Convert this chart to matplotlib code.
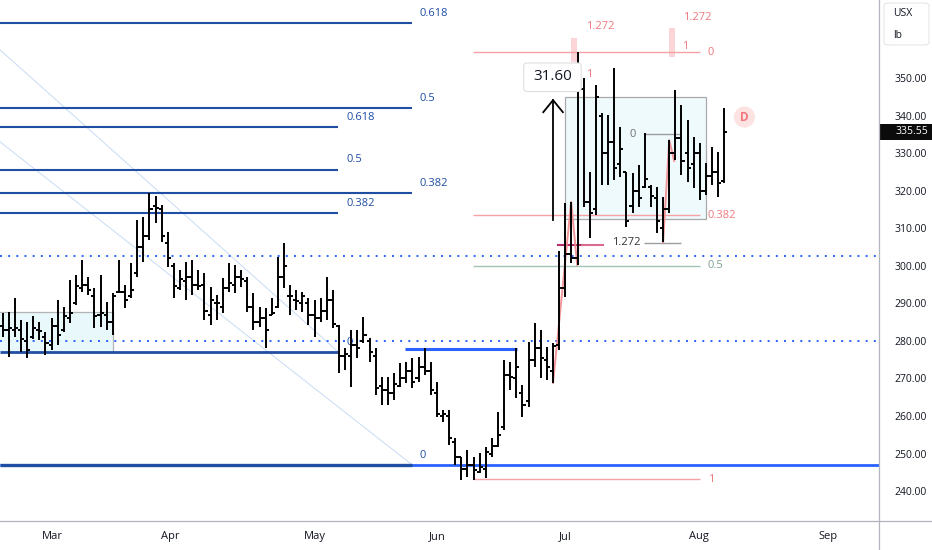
import numpy as np
import matplotlib.pyplot as plt
from matplotlib.patches import Rectangle, FancyBboxPatch
from matplotlib.lines import Line2D

plt.rcParams['font.family'] = ['Open Sans', 'DejaVu Sans']

# OHLC bars (bar index = position)
high = [287.4, 287.7, 291.4, 285.6, 285.0, 286.6, 285.0, 282.4, 286.1, 290.9,
        289.0, 296.2, 297.5, 301.5, 297.0, 294.1, 297.5, 290.3, 292.7, 301.5,
        294.9, 300.7, 312.2, 313.0, 319.4, 318.6, 316.2, 309.0, 300.7, 298.9,
        301.0, 301.5, 298.9, 298.1, 294.3, 292.2, 296.7, 300.7, 300.2, 298.9,
        297.0, 292.7, 289.0, 288.8, 291.4, 302.3, 306.1, 294.9, 293.5, 293.0,
        291.4, 290.9, 291.4, 297.0, 293.5, 284.2, 278.1, 282.9, 282.9, 286.4,
        280.8, 278.1, 270.4, 270.4, 271.4, 274.1, 274.4, 275.4, 275.7, 278.1,
        274.4, 269.0, 261.6, 261.6, 254.1, 249.1, 250.9, 249.1, 250.1, 251.7,
        254.1, 261.1, 274.9, 274.4, 278.1, 268.2, 279.7, 284.8, 282.9, 278.4,
        279.4, 304.0, 316.7, 317.0, 356.9, 350.0, 325.0, 348.1, 340.7, 340.1,
        352.7, 337.0, 325.0, 324.7, 326.8, 335.4, 321.5, 321.0, 318.3, 333.5,
        346.8, 342.8, 338.8, 334.3, 332.7, 327.4, 331.6, 330.3, 342.0]
low = [281.0, 275.7, 281.0, 277.0, 275.4, 280.5, 280.2, 276.2, 277.6, 278.9,
       282.4, 284.8, 289.5, 293.0, 292.2, 283.4, 283.7, 282.9, 281.6, 292.7,
       288.8, 291.4, 297.0, 301.0, 306.9, 311.4, 306.3, 299.7, 291.4, 293.5,
       290.9, 292.2, 293.5, 285.6, 284.2, 285.6, 287.4, 293.0, 292.7, 294.3,
       287.7, 282.9, 283.7, 278.1, 286.9, 288.8, 294.1, 286.9, 288.2, 287.7,
       284.2, 281.0, 285.0, 285.6, 283.4, 271.4, 272.2, 267.7, 275.4, 279.4,
       274.4, 265.6, 262.9, 262.9, 264.3, 267.7, 268.8, 267.4, 269.0, 270.9,
       265.6, 259.7, 258.4, 252.3, 246.9, 242.9, 243.7, 242.9, 244.8, 243.5,
       249.1, 251.7, 256.3, 266.9, 264.8, 259.7, 262.4, 273.0, 270.1, 269.6,
       268.8, 277.6, 291.6, 300.7, 300.2, 315.6, 307.4, 313.5, 321.5, 321.5,
       322.8, 323.6, 310.3, 314.1, 315.6, 320.7, 315.6, 308.7, 306.3, 314.1,
       328.2, 324.2, 322.3, 320.7, 317.5, 318.8, 321.5, 318.3, 322.0]
opens = [284, 283, 283, 283, 280, 281, 283, 281, 279, 284,
         283, 286, 290, 294, 295, 292, 287, 287, 285, 293,
         293, 292, 298, 305, 308, 316, 315, 306, 300, 294,
         296, 297, 295, 295, 287, 290, 289, 294, 295, 297,
         296, 289, 285, 286, 287, 289, 297, 292, 291, 290,
         290, 287, 286, 288, 291, 284, 276, 276, 279, 280,
         280, 276, 268, 267, 266, 268, 270, 272, 270, 273,
         272, 266, 260, 260, 253, 249, 246, 247, 245, 246,
         250, 252, 257, 271, 270, 266, 264, 275, 278, 275,
         272, 279, 294, 303, 302, 347, 317, 315, 340, 330,
         333, 327, 325, 316, 320, 321, 321, 318, 310, 315,
         330, 334, 330, 327, 330, 320, 324, 325, 322.5]
closes = [283, 283.5, 283.5, 280.5, 277.5, 283.5, 282.5, 279.5, 284, 281.5,
          286.5, 287.5, 294.5, 295, 293.5, 286.5, 287.5, 285, 292, 293,
          291, 293.5, 305, 308, 315, 315.5, 308, 302, 294.5, 296.5,
          297, 295, 294.5, 288, 291, 290, 294, 295.5, 297, 296.5,
          289, 285, 286, 283, 287.5, 297, 300, 292, 290.5, 292,
          287, 286, 288, 291, 284.5, 276, 276.5, 279, 278, 281.5,
          277, 267.5, 267, 266, 268.5, 270, 272, 269, 273, 272,
          267, 260.5, 260.5, 254, 249, 246, 247, 245.5, 246.5, 250.5,
          252, 255, 271, 270.5, 273, 263, 275, 278, 275.5, 273,
          278.5, 294, 303, 302, 349.5, 317, 314, 345, 330, 333,
          326, 331, 312, 320, 318, 323, 318.5, 312, 315, 330,
          334, 328, 326, 330, 320, 324, 325, 322, 335.55]

months = ['Mar', 'Apr', 'May', 'Jun', 'Jul', 'Aug', 'Sep']
month_pos = [8.1, 27.4, 51.1, 71.0, 92.0, 113.9, 134.9]
price_ticks = np.arange(240, 351, 10)
last_price = 335.55

# fib / drawing levels
fib_long = [364.57, 341.93, 319.3]          # 0.618, 0.5, 0.382 (long tool)
fib_long_lbl = ['0.618', '0.5', '0.382']
fib_short = [336.87, 325.5, 313.97]         # 0.618, 0.5, 0.382 (short tool)
fib_short_lbl = ['0.618', '0.5', '0.382']
fib_long_zero = 246.94
fib_short_zero = 277.03
dotted_levels = [302.6, 280.0]
red_levels = [356.92, 313.5, 300.0, 243.2]
red_lbl = ['0', '0.382', '0.5', '1']
red_col = ['#f7a1a5', '#f7a1a5', '#a3c4b2', '#f7a1a5']
red_lbl_col = ['#f0777d', '#f0777d', '#7fa191', '#f0777d']
pattern1_x = [90.0, 92.96, 93.95]
pattern1_y = [268.8, 317.0, 300.2]
pattern2_x = [108.0, 109.0, 109.8]
pattern2_y = [306.3, 333.5, 327.9]

n = len(high)
x = np.arange(n)
blue_d = '#1f4ea3'
blue_b = '#2962ff'
red_t = '#f0777d'

fig = plt.figure(figsize=(9.32, 5.5), dpi=100)
ax = fig.add_axes([0, 29 / 550, 879 / 932, 521 / 550])
ax.set_xlim(-0.44, 143.3)
ax.set_ylim(232.03, 370.77)

# left cyan box
ax.add_patch(Rectangle((-0.44, fib_short_zero), 18.44, 287.77 - fib_short_zero,
                       facecolor='#e9f8fb', edgecolor='none', zorder=1))
ax.plot([-0.44, 18.0, 18.0], [287.77, 287.77, fib_short_zero], color='#b4b4b4', lw=0.9, zorder=1)

# right cyan box
ax.add_patch(Rectangle((91.98, 312.4), 23.0, 344.9 - 312.4,
                       facecolor='#eefafc', edgecolor='#a9a9a9', lw=0.9, zorder=1))

# diagonal trend lines
ax.plot([-0.44, 54.9], [357.5, fib_short_zero], color='#c9dbf4', lw=0.7, zorder=1)
ax.plot([-0.44, 67.0], [333.0, fib_long_zero], color='#c9dbf4', lw=0.7, zorder=1)

# blue fib levels
for lv, lb in zip(fib_long, fib_long_lbl):
    ax.hlines(lv, -0.44, 67.0, color=blue_d, lw=1.5, zorder=2)
    ax.text(68.2, lv + 1.2, lb, color=blue_d, fontsize=8, va='bottom', ha='left')
for lv, lb in zip(fib_short, fib_short_lbl):
    ax.hlines(lv, -0.44, 54.9, color=blue_d, lw=1.5, zorder=2)
    ax.text(56.2, lv + 1.2, lb, color=blue_d, fontsize=8, va='bottom', ha='left')
ax.hlines(fib_short_zero, -0.44, 54.9, color=blue_d, lw=2.0, zorder=2)
ax.text(56.2, fib_short_zero + 1.0, '0', color=blue_d, fontsize=8, va='bottom')
ax.hlines(fib_long_zero, -0.44, 143.3, color=blue_b, lw=2.0, zorder=2)
ax.hlines(fib_long_zero, -0.44, 67.0, color=blue_d, lw=2.4, zorder=2)
ax.text(68.2, fib_long_zero + 1.0, '0', color=blue_d, fontsize=8, va='bottom')
ax.hlines(277.83, 65.8, 84.1, color=blue_b, lw=2.2, zorder=2)
for lv in dotted_levels:
    ax.hlines(lv, -0.44, 143.3, color=blue_b, lw=1.4, linestyles=(0, (1, 3.2)), zorder=2)

# red fib tool
for lv, lb, c, lc in zip(red_levels, red_lbl, red_col, red_lbl_col):
    ax.hlines(lv, 76.9, 114.1, color=c, lw=1.0, zorder=2)
    ax.text(115.3, lv, lb, color=lc, fontsize=8, va='center', ha='left')
ax.text(97.7, 363.6, '1.272', color=red_t, fontsize=8, ha='center', va='center')
ax.text(113.6, 366.2, '1.272', color=red_t, fontsize=8, ha='center', va='center')
ax.text(111.6, 358.5, '1', color=red_t, fontsize=8, ha='center', va='center')
ax.text(95.9, 350.8, '1', color=red_t, fontsize=8, ha='center', va='center', zorder=8)
ax.add_patch(Rectangle((92.96, 354.3), 0.99, 6.4, facecolor='#fbd5d7', edgecolor='none', zorder=1))
ax.add_patch(Rectangle((109.0, 355.6), 0.99, 7.7, facecolor='#fbd5d7', edgecolor='none', zorder=1))

# grey levels in box
ax.hlines(335.0, 105.1, 110.96, color='#9e9e9e', lw=1.0, zorder=2)
ax.text(103.1, 335.0, '0', color='#707070', fontsize=8, ha='center', va='center')
ax.hlines(306.1, 104.9, 111.0, color='#9e9e9e', lw=1.0, zorder=2)
ax.text(102.0, 306.1, '1.272', color='#333333', fontsize=8, ha='center', va='center')
ax.plot([90.8, 94.8], [305.4, 305.4], color='#b52e6c', lw=1.5, zorder=2)
ax.plot([94.8, 98.2], [305.4, 305.4], color='#d9698f', lw=1.5, zorder=2)

# harmonic pattern legs
ax.plot(pattern1_x, pattern1_y, color='#f28b8f', lw=1.4, alpha=0.9, zorder=2)
ax.plot(pattern2_x, pattern2_y, color='#f28b8f', lw=1.4, alpha=0.9, zorder=2)

# OHLC bars
ax.vlines(x, low, high, color='black', lw=1.4, zorder=4)
ax.hlines(opens, x - 0.5, x, color='black', lw=1.4, zorder=4)
ax.hlines(closes, x, x + 0.5, color='black', lw=1.4, zorder=4)

# arrow + measure label
ax.plot([90.0, 90.0], [312.2, 344.1], color='black', lw=1.3, zorder=5)
ax.plot([88.4, 90.0, 91.6], [340.9, 344.1, 340.9], color='black', lw=1.3, zorder=5)
ax.add_patch(FancyBboxPatch((85.2, 346.4), 9.4, 7.6,
                            boxstyle='round,pad=0,rounding_size=0.6',
                            facecolor='white', edgecolor='#e0e0e0', lw=0.8, zorder=6,
                            mutation_aspect=1.5))
ax.text(89.9, 350.3, '31.60', fontsize=11, color='#131722', ha='center', va='center', zorder=7)

# D marker
ax.scatter([121.3], [339.6], s=230, color='#fde2e2', edgecolors='none', zorder=5)
ax.text(121.3, 339.6, 'D', color=red_t, fontsize=8.5, fontweight='bold',
        ha='center', va='center', zorder=6)

# axes styling
for s in ['top', 'left', 'right', 'bottom']:
    ax.spines[s].set_visible(False)
ax.yaxis.tick_right()
ax.set_yticks(price_ticks)
ax.set_yticklabels([f'{p:.2f}' for p in price_ticks])
ax.tick_params(axis='y', length=0, pad=11, labelsize=7.5, labelcolor='#131722')
ax.set_xticks(month_pos)
ax.set_xticklabels(months)
ax.tick_params(axis='x', length=0, pad=7, labelsize=8, labelcolor='#131722')
for t in ax.get_yticklabels():
    t.set_ha('left')

# last price marker on the scale
fig.add_artist(Rectangle((880 / 932, 1 - 140 / 550), 52 / 932, 16 / 550,
                         facecolor='#0b0b0b', edgecolor='none', transform=fig.transFigure))
fig.text(895 / 932, 1 - 132 / 550, f'{last_price:.2f}', fontsize=7.5, color='white',
         va='center', ha='left')

fig.add_artist(Line2D([879 / 932, 879 / 932], [0, 1], color='#b2b5be', lw=0.9))
fig.add_artist(Line2D([0, 1], [29 / 550, 29 / 550], color='#b2b5be', lw=0.9))
fig.add_artist(FancyBboxPatch((884 / 932, 505 / 550), 45 / 932, 42 / 550,
                              boxstyle='round,pad=0,rounding_size=0.005',
                              facecolor='white', edgecolor='#e6e6e6', lw=0.8,
                              transform=fig.transFigure))
fig.text(893 / 932, 1 - 14 / 550, 'USX', fontsize=7.5, color='#131722', va='center')
fig.text(893 / 932, 1 - 36 / 550, 'lb', fontsize=7.5, color='#131722', va='center')

fig.savefig('out.png', dpi=100)
